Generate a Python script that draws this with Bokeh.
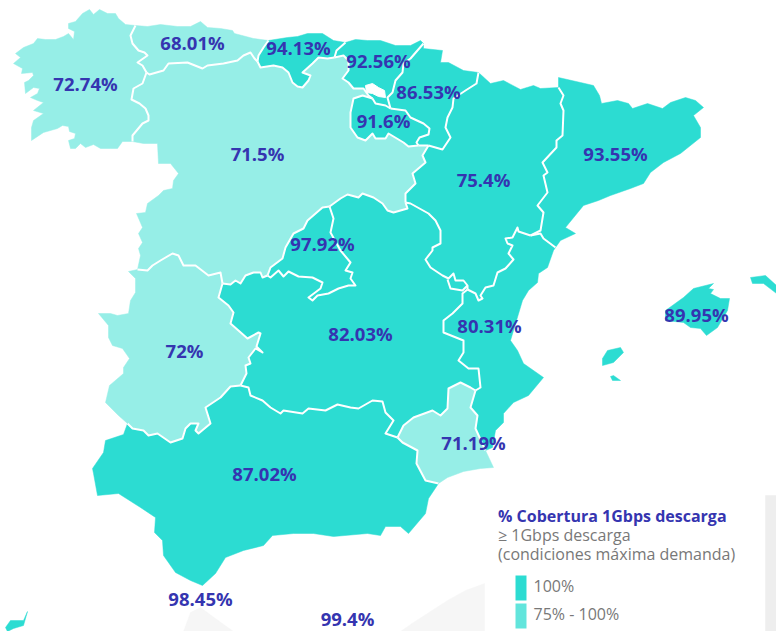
from bokeh.plotting import figure
from bokeh.models import Range1d
from bokeh.core.properties import value
from bokeh.embed import file_html
from bokeh.resources import INLINE

DARK = "#2cdcd2"
LIGHT = "#96eee7"
SWATCH2 = "#62e5dc"
INK = "#3535b0"
GREY = "#787878"

# ---- outlines (coasts and frontiers) ----
gal_coast = [(135,25),(125,24),(118,18),(115,13),(107,13),(99,9),(93,14),(89,9),(82,13),(75,21),(68,23),(68,28),(74,31),(73,39),(68,33),(63,36),(55,39),(45,39),(37,38),(33,43),(23,47),(15,53),(20,57),(13,63),(22,68),(21,73),(32,72),(33,75),(28,80),(24,82),(25,93),(33,87),(39,88),(37,93),(30,97),(37,100),(43,102),(33,110),(43,113),(33,120),(31,127),(31,140),(43,132),(57,128),(62,125),(68,126),(69,131),(75,133),(74,138),(68,140),(70,148),(75,148),(80,143),(85,147),(93,144),(100,148),(110,148),(117,148),(122,141),(132,141)]
gal_cyl = [(132,141),(132,135),(142,123),(148,120),(148,115),(145,108),(139,103),(131,99),(133,88),(142,83),(146,72)]
gal_ast = [(146,72),(142,65),(137,62),(147,55),(144,52),(138,50),(132,43),(130,35),(135,25)]
ast_coast = [(135,25),(147,26),(160,24),(177,26),(190,26),(200,21),(207,27),(220,28),(232,30),(234,33),(253,38),(268,40)]
ast_cant = [(268,40),(263,47),(258,55),(257,61)]
ast_cyl = [(146,72),(149,74),(163,70),(168,63),(187,62),(202,68),(207,65),(223,63),(237,60),(243,55),(250,52),(254,58),(257,61)]
cant_coast = [(268,40),(287,37),(297,36),(307,33),(322,33),(333,40),(345,42)]
cant_pv = [(345,42),(336,50),(334,57)]
cant_cyl = [(334,57),(327,58),(318,57),(312,63),(302,72),(310,75),(308,80),(302,87),(297,86),(292,82),(288,72),(282,67),(273,65),(260,67),(257,61)]
pv_coast = [(345,42),(355,39),(367,40),(380,40),(395,45),(410,45),(420,40),(423,43)]
pv_nav = [(423,43),(410,58),(403,63),(402,72),(395,80),(392,92),(387,97),(390,108)]
pv_rio = [(390,108),(385,105),(375,103),(372,98)]
pv_cyl = [(372,98),(368,95),(363,88),(353,88),(348,82),(342,78),(348,70),(348,60),(343,55),(334,57)]
rio_nav = [(390,108),(405,110),(410,117),(423,123),(429,128),(428,134),(419,137),(416,142),(418,145)]
rio_cyl = [(418,145),(408,146),(403,142),(388,133),(385,138),(375,138),(372,133),(365,140),(357,137),(350,127),(350,112),(353,98),(362,95),(372,98)]
trevino = [(365,85),(372,83),(378,87),(384,90),(385,97),(378,96),(372,93),(366,92)]
nav_coast = [(423,43),(423,48),(442,50),(440,62),(448,62),(463,70),(478,72)]
nav_ara = [(478,72),(476,83),(465,90),(453,98),(452,107),(447,117),(445,127),(450,137),(442,149),(435,147),(428,145)]
nav_cyl = [(428,145),(418,145)]
ara_north = [(478,72),(490,83),(503,80),(520,89),(533,85),(540,88),(558,87)]
ara_cat = [(558,87),(563,95),(560,103),(563,110),(562,135),(556,140),(556,147),(542,162),(547,172),(543,175),(547,192),(537,205),(543,212),(540,230),(530,235)]
ara_val = [(530,235),(518,231),(517,227),(512,237),(505,238),(507,243),(512,245),(508,253),(513,259),(505,268),(497,272),(493,285),(485,287),(480,295),(482,298),(478,300),(475,293),(467,289)]
ara_clm = [(467,289),(467,285),(463,280),(455,280),(453,273),(448,278),(442,275),(430,267),(425,259),(432,250),(432,247),(440,243),(440,230),(435,220),(428,213),(410,203),(405,202)]
ademuz = [(447,279),(450,288),(462,290),(467,285)]
ara_cyl = [(405,202),(405,193),(415,183),(412,173),(425,162),(422,155),(428,145)]
cat_coast = [(558,87),(558,77),(580,82),(593,85),(599,95),(601,103),(617,100),(628,103),(632,108),(647,103),(662,108),(670,102),(685,97),(695,100),(703,107),(693,115),(700,127),(700,137),(680,153),(663,162),(650,172),(643,183),(630,188),(610,195),(598,200),(583,205),(565,227),(575,233),(560,240),(555,247)]
cat_val = [(530,235),(540,233),(543,238),(555,247)]
val_coast = [(555,247),(553,250),(547,267),(538,273),(537,282),(528,290),(522,300),(510,340),(517,350),(523,363),(543,377),(528,395),(513,402),(503,413),(503,422),(495,430),(492,447),(485,450)]
val_clm = [(467,289),(462,293),(462,303),(452,313),(443,320),(443,332),(463,340),(463,352),(458,360),(468,368),(478,368),(480,387),(475,390)]
val_mur = [(475,390),(470,407),(477,415),(475,428),(485,450)]
mur_coast = [(485,450),(493,467),(480,468),(463,471),(447,477),(438,483)]
mur_and = [(397,437),(402,442),(417,450),(416,463),(425,480),(438,483)]
mur_clm = [(397,437),(403,425),(413,417),(432,410),(440,415),(447,408),(448,388),(460,382),(470,387),(475,390)]
and_clm = [(240,385),(248,387),(250,395),(262,400),(270,407),(280,413),(283,410),(302,413),(308,408),(325,410),(337,404),(350,407),(358,408),(372,400),(382,401),(385,412),(393,420),(385,433),(397,437)]
and_coast = [(438,483),(428,498),(425,513),(408,533),(400,526),(385,526),(380,535),(367,533),(333,536),(313,533),(293,533),(272,535),(263,545),(243,550),(225,557),(215,573),(202,585),(190,580),(175,572),(163,555),(162,540),(154,532),(155,517),(140,507),(118,493),(97,495),(93,473),(92,468),(103,452),(105,440),(123,434),(127,423)]
ext_and = [(127,423),(132,428),(143,430),(148,435),(157,433),(170,442),(182,438),(185,428),(190,423),(198,423),(195,430),(198,433),(210,423),(205,407),(220,397),(230,386),(240,385)]
ext_clm = [(240,385),(246,373),(245,365),(250,363),(248,357),(255,348),(262,352),(256,346),(260,333),(258,332),(247,338),(230,323),(233,312),(228,305),(218,297),(222,283)]
ext_west = [(137,269),(128,271),(135,278),(135,292),(130,300),(128,313),(117,315),(110,313),(98,313),(108,325),(108,337),(112,345),(122,348),(129,358),(123,367),(123,373),(109,385),(105,402),(118,415),(127,423)]
ext_cyl = [(137,269),(147,270),(152,265),(160,260),(172,253),(178,255),(183,265),(195,265),(208,275),(220,272),(222,283)]
cyl_west = [(132,141),(143,143),(157,143),(158,163),(170,163),(178,173),(173,180),(172,188),(163,190),(158,195),(147,203),(145,212),(136,213),(142,227),(138,233),(142,242),(138,248),(140,255),(137,269)]
cyl_clm_w = [(222,283),(230,284),(235,280),(240,283),(245,275),(253,272),(260,272),(262,277),(267,275)]
mad_nw = [(267,275),(270,267),(282,258),(285,247),(293,233),(303,228),(307,220),(322,207),(329,206)]
mad_se = [(267,275),(270,277),(278,270),(283,276),(288,271),(298,276),(312,277),(322,282),(320,288),(308,297),(312,300),(317,295),(328,293),(338,288),(348,285),(355,285),(350,278),(352,272),(345,270),(350,262),(340,250),(330,232),(333,218),(329,206)]
cyl_clm_e = [(329,206),(340,198),(347,194),(358,197),(362,193),(373,197),(382,203),(387,210),(393,212),(400,210),(407,208),(405,202)]
mallorca = [(713,283),(693,288),(683,297),(665,310),(665,320),(683,322),(690,327),(700,328),(706,335),(717,327),(727,310),(729,298),(720,298),(710,293),(713,289),(708,288)]
menorca = [(750,277),(765,275),(776,285),(776,293),(763,283),(752,283)]
ibiza = [(602,358),(607,350),(620,347),(623,352),(613,362),(602,365)]
formentera = [(610,376),(613,375),(620,380),(612,380)]
canaria = [(27,611),(23,620),(10,620),(5,627),(7,631),(13,628),(23,625)]
shade_left = [(183,631),(190,612),(200,607),(215,618),(233,631)]
shade_right = [(400,631),(413,622),(447,600),(465,590),(484,583),(484,631)]
shade_edge = [(765,495),(776,495),(776,631),(765,631)]

# ---- labels ----
region_labels = ["72.74%","68.01%","94.13%","92.56%","86.53%","91.6%","71.5%","75.4%","93.55%","97.92%","82.03%","72%","80.31%","89.95%","71.19%","87.02%","98.45%","99.4%"]
label_x = [85,192,298,378,428,383,257,483,615,322,360,184,489,696,473,264,200,347]
label_y = [83,42,47,60,91,120,153,179,153,243,333,350,325,314,442,473,598,618]
legend_title = "% Cobertura 1Gbps descarga"
legend_sub = ["≥ 1Gbps descarga", "(condiciones máxima demanda)"]
legend_items = ["100%", "75% - 100%"]


def chain(*segs):
    out = []
    for s in segs:
        out.extend(s)
    return out


def rev(s):
    return list(reversed(s))


galicia = chain(gal_coast, gal_cyl, gal_ast)
asturias = chain(ast_coast, ast_cant, rev(ast_cyl), gal_ast)
cantabria = chain(cant_coast, cant_pv, cant_cyl, rev(ast_cant))
pais_vasco = chain(pv_coast, pv_nav, pv_rio, pv_cyl, rev(cant_pv))
rioja = chain(rio_nav, rio_cyl, rev(pv_rio))
navarra = chain(nav_coast, nav_ara, nav_cyl, rev(rio_nav), rev(pv_nav))
aragon = chain(ara_north, ara_cat, ara_val, ara_clm, ara_cyl, rev(nav_ara))
cataluna = chain(cat_coast, rev(cat_val), rev(ara_cat))
valencia = chain(cat_val, val_coast, rev(val_mur), rev(val_clm), rev(ara_val))
murcia = chain(mur_clm, val_mur, mur_coast, rev(mur_and))
andalucia = chain(ext_and, and_clm, mur_and, and_coast)
extremadura = chain(ext_west, ext_and, ext_clm, rev(ext_cyl))
madrid = chain(mad_nw, rev(mad_se))
clm = chain(cyl_clm_w, mad_se, cyl_clm_e, rev(ara_clm), val_clm, rev(mur_clm), rev(and_clm), ext_clm)
cyl = chain(cyl_west, ext_cyl, cyl_clm_w, mad_nw, cyl_clm_e, ara_cyl, nav_cyl, rio_cyl, pv_cyl, cant_cyl, rev(ast_cyl), rev(gal_cyl))

frontiers = [gal_cyl, gal_ast, ast_cant, ast_cyl, cant_pv, cant_cyl, pv_nav, pv_rio, pv_cyl, rio_nav, rio_cyl,
             nav_ara, nav_cyl, ara_cat, ara_val, ara_clm, ademuz, ara_cyl, cat_val, val_clm, val_mur, mur_and,
             mur_clm, and_clm, ext_and, ext_clm, ext_cyl, cyl_clm_w, mad_nw, mad_se, cyl_clm_e]

p = figure(width=776, height=631, x_range=Range1d(0, 776), y_range=Range1d(631, 0),
           toolbar_location=None, output_backend="svg", min_border=0, outline_line_color=None,
           background_fill_color="white", border_fill_color="white")
p.axis.visible = False
p.grid.visible = False


def fill(shapes, color):
    p.patches([[a for a, _ in s] for s in shapes], [[b for _, b in s] for s in shapes],
              fill_color=color, line_color=color, line_width=0.5)


fill([shade_left, shade_right], "#f6f6f6")
fill([shade_edge], "#eeeeee")
fill([galicia, asturias, cyl, extremadura, murcia], LIGHT)
fill([cantabria, pais_vasco, rioja, navarra, aragon, cataluna, valencia, andalucia, clm, madrid,
      mallorca, menorca, ibiza, formentera, canaria], DARK)
p.patches([[a for a, _ in trevino]], [[b for _, b in trevino]], fill_color="white", line_color="white")
p.multi_line([[a for a, _ in s] for s in frontiers], [[b for _, b in s] for s in frontiers],
             line_color="white", line_width=2, line_join="round")

p.text(label_x, label_y, text=region_labels, text_font=value("Open Sans"), text_font_style="bold",
       text_font_size="18.5px", text_color=INK, text_align="center", text_baseline="middle")

p.text([497.5], [515], text=[legend_title], text_font=value("Open Sans"), text_font_style="bold",
       text_font_size="16px", text_color=INK, text_align="left", text_baseline="middle")
p.text([497.5, 497.5], [534, 553], text=legend_sub, text_font=value("Open Sans"),
       text_font_size="16px", text_color=GREY, text_align="left", text_baseline="middle")
p.quad(left=[515, 515], right=[526, 526], top=[575, 603], bottom=[600, 628],
       fill_color=[DARK, SWATCH2], line_color=None)
p.text([533, 533], [585, 613], text=legend_items, text_font=value("Open Sans"),
       text_font_size="16px", text_color=GREY, text_align="left", text_baseline="middle")

open("out.html", "w").write(file_html(p, INLINE))
